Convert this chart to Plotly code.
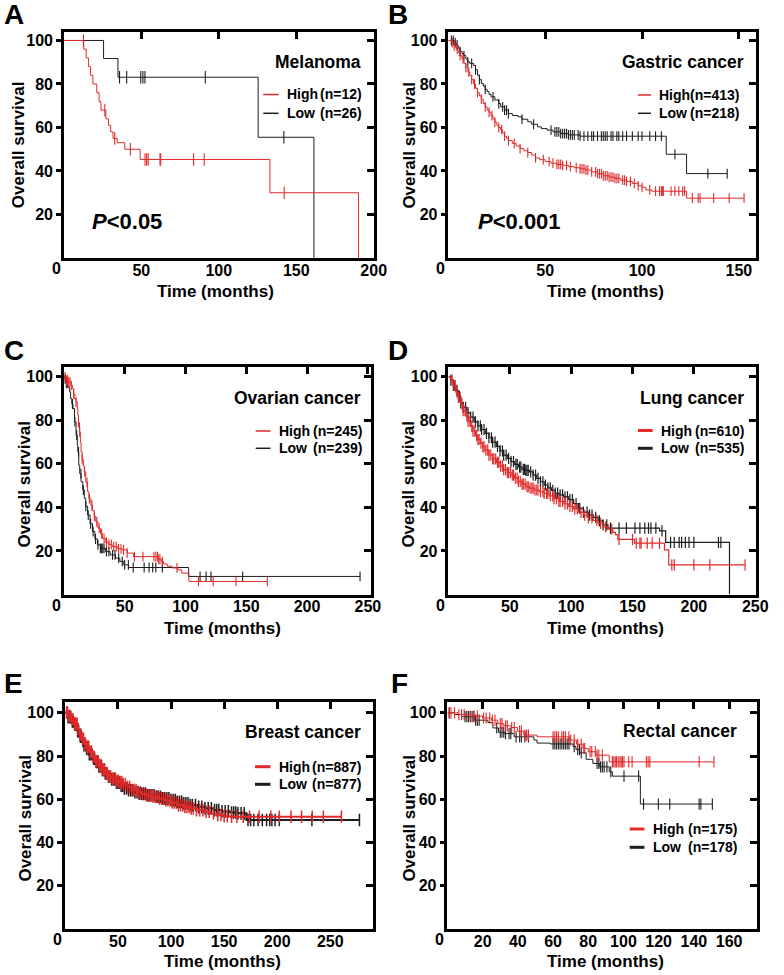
import plotly.graph_objects as go

W, H = 784, 975
FONT = "Liberation Sans"
RED = "#e12a2a"
BLK = "#1e1e1e"

# ---------------- DATA ----------------
# A  Melanoma
A_high_t = [0, 12.8, 14.4, 15.9, 17.2, 18.7, 21.2, 22.7, 23.9, 27.1, 28.8, 30.2, 31.7, 34.4, 39.3, 49.2, 133.0, 190.2]
A_high_s = [100, 96, 92, 88, 84, 80, 76, 72, 68, 64, 61, 58, 55, 53, 50, 45.3, 30, 0]
A_high_end = None
A_high_cens = [12.6, 26.4, 32.8, 42.9, 52.4, 53.4, 54.4, 62.0, 62.5, 83.7, 90.6, 142.2]
A_low_t = [0, 25.6, 34.9, 125.4, 161.4]
A_low_s = [100, 91.7, 83.1, 55.5, 0]
A_low_end = None
A_low_cens = [35.9, 40.5, 49.6, 51.0, 52.3, 91.3, 142.0]

# B  Gastric cancer
B_high_t = [0, 2, 3, 4, 5, 6, 7, 8, 9, 10, 11, 12, 13, 14, 15, 16, 17, 18, 19, 20, 21, 22, 23, 24, 25, 26, 27, 28, 29, 30, 31,
            33, 35, 37, 39, 41, 43, 45, 47, 50, 53, 56, 59, 62, 65, 68, 71, 74, 77, 80, 83, 86, 89, 92, 95, 98, 100, 102, 105, 123]
B_high_s = [100, 99, 97.5, 96, 94.5, 93, 91.5, 89.5, 87.5, 85.5, 84, 82, 80, 78, 76, 74.5, 73, 71, 69.5, 68, 67, 65.5, 64, 62.5, 61, 60, 59, 57.5, 56, 55, 54,
            52.7, 51.5, 50.3, 49.3, 48.5, 47.3, 46, 45.2, 44.3, 43.6, 43, 42.6, 42, 41.5, 41, 40.4, 39.6, 38.8, 37.8, 37.2, 36.6, 35.8, 35.2, 34.3, 33.2, 32.5, 31.3, 30.7, 27.5]
B_high_end = 152.7
B_high_cens = [2, 3, 4.5, 6, 7.5, 9, 10.5, 12, 13.5, 15, 17, 19, 21, 22.5, 24, 26, 27.5, 29, 31, 34, 37, 41, 45, 49, 52, 54, 56, 57, 58, 59,
               61, 63, 66, 68, 69, 70, 71, 72, 74, 76, 77, 78, 79, 80, 81, 82, 83, 84, 85, 86, 87, 88, 90, 91, 92, 94, 96, 98, 100,
               104, 107, 109, 110, 110.5, 111, 115, 117, 119, 121, 122, 126, 129, 130, 137, 145, 152.7]
B_low_t = [0, 3, 4, 5, 6, 7, 8, 9, 10, 11, 13, 14, 15, 16, 17, 18, 19, 20, 21, 22, 24, 26, 27, 29, 31, 33, 36, 38, 41, 43,
           46, 48, 51, 54, 58, 62, 68, 112.5, 123]
B_low_s = [100, 99, 98, 96.5, 95, 94, 93, 91.5, 90.2, 89.5, 88.5, 86.5, 84, 82, 80.2, 79, 77.5, 76.5, 75.2, 74.1, 72.6, 71, 69.5, 68, 66.4, 65.5, 64.9, 63.8, 62.6, 61.5,
           60.3, 59.5, 58.8, 58, 57.2, 56.6, 56, 47.7, 38.8]
B_low_end = 144
B_low_cens = [1.5, 2.5, 3.5, 4.5, 6, 8, 10, 12, 14, 16, 19, 23, 26, 28, 29, 30, 31, 38, 44, 53, 55, 56, 57, 58, 59, 60, 61, 62, 63, 64,
              65, 67, 68, 70, 72, 74, 75, 77, 79, 80, 81, 82, 84, 85, 87, 88, 90, 92, 95, 98, 100, 104, 107, 110, 117, 134, 144]

# C  Ovarian cancer
C_high_t = [0, 2, 4, 6, 7, 8, 9, 10, 11, 11.5, 12, 12.8, 13.5, 14.1, 15, 16, 16.8, 18, 19.5, 20.5, 22.2, 23.5, 25, 26.2, 28, 30, 31.6, 34, 37, 39.7,
            44, 47.8, 52, 57.3, 77.5, 80.2, 82, 85, 89, 93.7, 97, 102.8]
C_high_s = [100, 98.5, 97.5, 96, 94.5, 92, 90, 88.4, 85, 82.3, 79, 74.7, 70, 65.5, 62, 59, 56.3, 51.5, 47.2, 44, 41, 38.5, 36, 33.4, 30.5, 28, 25.8, 24, 23, 22,
            21, 20.5, 19, 17.4, 16.2, 15.1, 14, 13, 12.2, 11.3, 9.8, 6]
C_high_end = 167.3
C_high_cens = [1, 2, 3, 4, 5, 6, 8, 10, 12, 13, 15, 17, 19, 21, 23, 25, 27, 29, 31, 33, 35, 37, 39, 41, 43, 45, 47, 49, 52, 58,
               65, 74, 75.6, 77, 78, 79, 81, 93, 110.7, 122.8, 141.6, 167.3]
C_low_t = [0, 1, 2, 3, 4.7, 5.5, 6.5, 7.4, 8.7, 10, 11, 11.4, 12.2, 13, 14.1, 15.5, 16.8, 18, 19.5, 21.5,
           23.5, 25.5, 27.6, 30, 34.3, 38, 42.4, 46, 49.2, 53.2, 102.6]
C_low_s = [100, 99, 97, 95, 93, 90, 87.5, 85.4, 79.3, 73.2, 68.5, 65.5, 59.4, 55.5, 51.8, 48, 44.2, 40.5, 36.5, 32.5,
           28.9, 25.5, 22.8, 21.2, 19.7, 18.2, 16.7, 15.2, 13.6, 12.4, 8.3]
C_low_end = 243.6
C_low_cens = [1, 2, 7, 9, 10.5, 12, 14, 16, 18, 20, 22, 24, 26, 28, 30, 31, 32, 33, 35, 37, 40, 42, 45, 48, 50, 53, 57,
              66, 70, 73, 75.6, 81, 112, 117, 121, 147, 243.6]

# D  Lung cancer
D_high_t = [0, 2, 4, 6, 8, 10, 12, 14, 16, 18, 20, 22, 24, 26, 28, 30, 33, 36, 39, 42, 45, 48, 51, 54, 57, 60, 63, 66,
            70, 74, 78, 82, 86, 90, 94, 98, 102, 106, 110, 114, 118, 122, 126, 130, 134, 136, 138, 151.6, 176, 179.5]
D_high_s = [100, 98.5, 96, 93, 90.5, 87.5, 84.5, 82, 79.5, 77.3, 75, 73, 71.2, 69.5, 67.8, 66.3, 64, 62.3, 60.7, 59, 57.4, 56, 54.8, 53.5, 52, 50.7, 49.5, 48.9,
            48, 47.2, 46.4, 45.3, 44, 42.8, 41.6, 40.5, 39.3, 37.7, 36.4, 35.2, 34, 32.7, 31, 30, 28.5, 27.5, 25.3, 23.6, 20.5, 13.6]
D_high_end = 241.7
D_high_cens = [3, 4.5, 5.5, 7, 8, 9.5, 11, 12, 13.5, 15, 16, 17.5, 19, 20, 21.5, 23, 24, 25, 26.5, 28, 29, 30.5, 32, 33, 34.5, 36, 37, 38.5,
               40, 41, 42.5, 44, 45, 46.5, 48, 49, 50.5, 52, 53, 54.5, 56, 57, 58.5, 60, 61, 62.5, 64, 65, 66.5, 68, 69, 70.5, 72, 73,
               75, 77, 78, 80, 81, 83, 85, 86, 88, 90, 91, 93, 95, 97, 99, 101, 103, 105, 108, 111, 114, 117, 121, 124, 128, 133,
               139, 150, 153, 156, 157, 162, 166, 172, 182, 184, 200, 213, 241.7]
D_low_t = [0, 2, 4, 6, 8, 10, 12, 15, 18, 21, 24, 27, 30, 33, 36, 39, 42, 45, 48, 51, 54, 57, 60, 63, 66, 69, 72, 75, 78, 81, 84, 87, 90,
           94, 98, 102, 106, 110, 114, 118, 122, 126, 130, 172, 177, 229]
D_low_s = [100, 98.5, 96, 93.8, 91, 88, 86, 83.4, 81.5, 79.3, 77.5, 75.8, 74, 72, 70, 68, 66, 64, 62.5, 61, 59.8, 58.5, 57.5, 57, 56.3, 54.8, 53.3, 51.8, 50.3, 49, 47.8, 46.6, 45.8,
           44.8, 43.6, 41.8, 39.6, 37.8, 36.5, 35.4, 33.8, 32, 30.5, 29.2, 23.9, 0]
D_low_end = None
D_low_cens = [2, 4, 5, 7, 9, 10, 12, 14, 16, 18, 20, 22, 24, 26, 27, 29, 31, 33, 35, 36, 38, 40, 42, 44, 45, 47, 49, 51, 53, 55,
              56, 58, 59, 61, 62, 63, 64, 65, 67, 69, 71, 73, 75, 77, 79, 81, 83, 85, 87, 89, 91, 93, 95, 97, 99, 101, 104, 107,
              110, 113, 115, 117, 120, 123, 126, 129, 132, 139, 145, 152, 156, 160, 163, 165, 169, 174, 181, 184, 188, 190, 193,
              196, 200, 220, 222]

# E  Breast cancer
E_high_t = [0, 3, 6, 9, 12, 14, 16, 18, 20, 23, 26, 29, 32, 35, 38, 41, 44, 48, 51, 55, 59, 63, 68, 72, 77, 82, 88, 94, 100, 106,
            112, 118, 124, 131, 137, 143, 150, 156]
E_high_s = [100, 98.5, 97, 95, 92.5, 90, 88, 86, 84.3, 82, 79.7, 77.6, 75.8, 73.8, 72, 70.6, 69.6, 68.5, 68, 67, 65.7, 64.3, 63.3, 62.4, 61.8, 61.2, 60.4, 59.6, 58.5, 57.3,
            56.5, 55.8, 55, 54.2, 53.4, 52.7, 52.2, 51.9]
E_high_end = 260.5
E_high_cens = [1.5, 2.5, 4, 5, 6.5, 7.5, 9, 10, 11.5, 12.5, 14, 15, 16.5, 17.5, 19, 20, 21.5, 22.5, 24, 25, 26.5, 27.5, 29, 30, 31.5, 32.5,
               34, 35, 36.5, 37.5, 39, 40, 41.5, 43, 44.5, 46, 47.5, 49, 50.5, 52, 53.5, 55, 57, 59, 61, 63, 65, 67, 69, 71, 73, 75,
               77, 79, 81, 83, 85, 87, 89, 91, 93, 95, 97, 99, 101, 103, 105, 107, 109, 111, 113, 115, 117, 119, 121, 124, 127, 130,
               133, 136, 140, 144, 147, 150, 153, 157, 162, 168, 174, 183, 194, 202, 213, 223, 233, 243.5, 260.5]
E_low_t = [0, 3, 6, 9, 12, 14, 16, 18, 20, 23, 26, 29, 32, 35, 38, 41, 44, 48, 52, 56, 60, 65, 70, 77, 85, 92, 100, 106, 112, 118,
           125, 132, 140, 148, 156, 163, 171]
E_low_s = [100, 98, 96, 94.5, 91.5, 89, 87, 85, 83.3, 80.8, 78.8, 77.3, 75.2, 73.5, 72, 70.4, 69.2, 67.7, 66.3, 65, 64.2, 63.3, 62.6, 61.9, 61.2, 60.4, 59.6, 58.8, 58.1, 57.3,
           56.5, 55.8, 55, 54.4, 53.9, 53.5, 50.4]
E_low_end = 277.5
E_low_cens = [2, 3, 4.5, 5.5, 7, 8, 9.5, 10.5, 12, 13, 14.5, 15.5, 17, 18, 19.5, 20.5, 22, 23, 24.5, 25.5, 27, 28, 29.5, 30.5, 32, 33,
              34.5, 35.5, 37, 38, 39.5, 41, 42.5, 44, 45.5, 47, 48.5, 50, 51.5, 53, 54.5, 56, 58, 60, 62, 64, 66, 68, 70, 72, 74,
              76, 78, 80, 82, 84, 86, 88, 90, 92, 94, 96, 98, 100, 102, 104, 106, 108, 110, 112, 114, 116, 118, 120, 123, 126, 129,
              132, 135, 138, 141, 143, 145, 148, 151, 154, 157, 159, 161, 163, 166, 169, 172.5, 175, 178, 182, 186, 190, 193, 195,
              198, 202, 232.7, 277.5]

# F  Rectal cancer
F_high_t = [0, 6, 12, 20, 25, 28.6, 32, 36, 39.7, 43.4, 50.9, 69.5, 73.3, 77, 80, 84.4, 91.9]
F_high_s = [100, 99.2, 98.5, 97.6, 96.6, 95, 94, 93.2, 91.5, 89.7, 88.9, 87.4, 85.5, 83.5, 82, 80.4, 77.3]
F_high_end = 151.4
F_high_cens = [1, 2, 4, 6.5, 8, 9.5, 13, 15, 17, 20.5, 22, 24, 25.5, 27, 30, 31, 33, 34, 36.5, 38, 41, 42, 44, 45, 46, 60, 61, 62, 63,
               65, 66, 67, 69, 70, 72, 74, 76, 77.5, 78, 81, 82, 84, 85, 86, 88, 93.7, 94.5, 95.3, 96, 97, 98, 98.7, 99.5, 100.3,
               103, 104.9, 113, 114, 115, 143, 151.4]
F_low_t = [0, 4, 8, 15.5, 23, 25.8, 29, 32.3, 37.9, 49.1, 50.9, 58.4, 71.4, 73, 75.1, 78.8, 82.6, 86.3, 91.9, 93.7, 109.6]
F_low_s = [100, 99.2, 98.2, 96.6, 95.5, 93, 91, 90.4, 88.9, 87.4, 86, 85.6, 84.4, 83, 81.5, 78.5, 76.6, 75, 72.7, 70.7, 57.8]
F_low_end = 150.5
F_low_cens = [1, 10, 11, 12, 13, 14, 15, 16, 17, 18, 28, 30, 31, 32, 33, 35, 36, 39, 41, 42, 44, 46, 60, 61, 62, 63, 64, 65, 66, 67,
              68, 69, 72, 74, 75, 76, 85, 86, 87, 88, 89, 90.6, 92.8, 100.3, 108.6, 111.4, 119.8, 126.3, 143, 144, 150.5]

TITLES = ["Melanoma", "Gastric cancer", "Ovarian cancer", "Lung cancer", "Breast cancer", "Rectal cancer"]
LETTERS = ["A", "B", "C", "D", "E", "F"]
HIGH_LABELS = ["(n=12)", "(n=413)", "(n=245)", "(n=610)", "(n=887)", "(n=175)"]
LOW_LABELS = ["(n=26)", "(n=218)", "(n=239)", "(n=535)", "(n=877)", "(n=178)"]
HIGH_WORD = ["High", "High", "High", "High", "High", "High"]
PVALUES = ["0.05", "0.001", None, None, None, None]
Y_TICKS = [20, 40, 60, 80, 100]
X_TICKS = [[50, 100, 150, 200], [50, 100, 150], [50, 100, 150, 200, 250],
           [50, 100, 150, 200, 250], [50, 100, 150, 200, 250], [20, 40, 60, 80, 100, 120, 140, 160]]

CURVES = [
    [(A_low_t, A_low_s, A_low_end, A_low_cens, BLK), (A_high_t, A_high_s, A_high_end, A_high_cens, RED)],
    [(B_low_t, B_low_s, B_low_end, B_low_cens, BLK), (B_high_t, B_high_s, B_high_end, B_high_cens, RED)],
    [(C_low_t, C_low_s, C_low_end, C_low_cens, BLK), (C_high_t, C_high_s, C_high_end, C_high_cens, RED)],
    [(D_low_t, D_low_s, D_low_end, D_low_cens, BLK), (D_high_t, D_high_s, D_high_end, D_high_cens, RED)],
    [(E_low_t, E_low_s, E_low_end, E_low_cens, BLK), (E_high_t, E_high_s, E_high_end, E_high_cens, RED)],
    [(F_low_t, F_low_s, F_low_end, F_low_cens, BLK), (F_high_t, F_high_s, F_high_end, F_high_cens, RED)],
]
for grp in CURVES:
    for c in grp:
        assert len(c[0]) == len(c[1]), (len(c[0]), len(c[1]))

# ---------------- LAYOUT (pixel geometry) ----------------
P = [
    dict(box=(65, 32, 380, 258), xr=(0, 200), yr=(0, 103.9), lw=1.0, ms=9, mw=1.1, legw=1.5,
         title=(369, 61.7), rows=(94.5, 113.3), line=(267.7, 283.3), word=290, nright=370,
         p=(91.7, 221), letter=(2, 14), xtitle=(219, 291), ytitle=(18.5, 145)),
    dict(box=(456, 32, 769, 258), xr=(0, 159), yr=(0, 103.9), lw=1.0, ms=7, mw=1.1, legw=1.5,
         title=(758.7, 61.7), rows=(95, 113.3), line=(648.7, 662), word=668, nright=753.7,
         p=(483.7, 221), letter=(393, 14), xtitle=(616, 291), ytitle=(415.5, 145)),
    dict(box=(65, 367, 377, 594.5), xr=(0, 252.4), yr=(0, 104.5), lw=1.0, ms=7, mw=1.1, legw=1.5,
         title=(369.3, 398.3), rows=(431, 448.3), line=(260, 275), word=281.7, nright=370,
         p=None, letter=(2, 350), xtitle=(226.7, 628.3), ytitle=(25, 484)),
    dict(box=(456, 367, 769, 594.5), xr=(0, 250.8), yr=(0, 104.5), lw=1.2, ms=8, mw=1.2, legw=3,
         title=(758.7, 398.3), rows=(430.5, 448.3), line=(648.7, 663.7), word=670.3, nright=758.7,
         p=None, letter=(393, 350), xtitle=(616, 628.3), ytitle=(415.5, 484)),
    dict(box=(66, 702, 379, 929), xr=(0, 290), yr=(0, 105), lw=2.0, ms=9, mw=1.5, legw=3,
         title=(369.3, 731.7), rows=(766.7, 784.3), line=(259.3, 275), word=281.7, nright=369.3,
         p=None, letter=(2, 683), xtitle=(226.7, 961.5), ytitle=(25, 818)),
    dict(box=(455, 702, 770, 929), xr=(0, 176), yr=(0, 105), lw=1.0, ms=8, mw=1.1, legw=3,
         title=(751.3, 731), rows=(829, 847.3), line=(640.3, 655.3), word=662, nright=751.3,
         p=None, letter=(396, 683), xtitle=(616, 961.5), ytitle=(415.5, 818)),
]


def px(x):
    return x / W


def py(y):
    return 1 - y / H


def step_at(ts, ss, t):
    v = ss[0]
    for ti, si in zip(ts, ss):
        if ti <= t:
            v = si
    return v


fig = go.Figure()
annotations = []
shapes = []
layout = {}


def bold(size):
    return dict(family=FONT, size=size, color="black", weight="bold")


for i, (cfg, grp) in enumerate(zip(P, CURVES), start=1):
    sfx = "" if i == 1 else str(i)
    xref, yref = "x" + sfx, "y" + sfx
    ox, oy = i + 6, i + 6
    x0, y0, x1, y1 = cfg["box"]

    for ts, ss, end, cens, col in grp:
        xs = list(ts) + ([end] if end is not None else [])
        ys = list(ss) + ([ss[-1]] if end is not None else [])
        fig.add_trace(go.Scatter(x=xs, y=ys, mode="lines", line=dict(color=col, width=cfg["lw"], shape="hv"),
                                 xaxis=xref, yaxis=yref, showlegend=False, hoverinfo="skip"))
        fig.add_trace(go.Scatter(x=cens, y=[step_at(ts, ss, t) for t in cens], mode="markers",
                                 marker=dict(symbol="line-ns", size=cfg["ms"], color=col,
                                             line=dict(color=col, width=cfg["mw"])),
                                 xaxis=xref, yaxis=yref, showlegend=False, hoverinfo="skip"))
    # dummy trace for overlay axes (inner ticks on top / right)
    fig.add_trace(go.Scatter(x=[None], y=[None], xaxis="x%d" % ox, yaxis="y%d" % oy,
                             showlegend=False, hoverinfo="skip"))

    xdom = [px(x0), px(x1)]
    ydom = [py(y1), py(y0)]
    layout["xaxis" + sfx] = dict(domain=xdom, range=list(cfg["xr"]), anchor=yref, showline=True, mirror=True,
                                 linewidth=2.5, linecolor="black", ticks="", tickvals=X_TICKS[i - 1],
                                 tickfont=bold(16), ticklabelstandoff=-4, showgrid=False, zeroline=False,
                                 fixedrange=True)
    layout["yaxis" + sfx] = dict(domain=ydom, range=list(cfg["yr"]), anchor=xref, showline=True, mirror=True,
                                 linewidth=2.5, linecolor="black", ticks="outside", ticklen=5, tickwidth=2.5,
                                 tickcolor="black", tickvals=Y_TICKS, tickfont=bold(16), showgrid=False,
                                 zeroline=False, fixedrange=True)
    layout["xaxis%d" % ox] = dict(overlaying=xref, side="top", anchor=yref, range=list(cfg["xr"]),
                                  ticks="inside", ticklen=7, tickwidth=2.5, tickcolor="black",
                                  tickvals=X_TICKS[i - 1], showticklabels=False, showline=False,
                                  showgrid=False, zeroline=False, fixedrange=True)
    layout["yaxis%d" % oy] = dict(overlaying=yref, side="right", anchor=xref, range=list(cfg["yr"]),
                                  ticks="inside", ticklen=7, tickwidth=2.5, tickcolor="black",
                                  tickvals=Y_TICKS, showticklabels=False, showline=False,
                                  showgrid=False, zeroline=False, fixedrange=True)

    # "0" label offset to the left, as in the reference
    annotations.append(dict(x=px(x0 - 8), y=py(y1 + 10.5), xref="paper", yref="paper", text="<b>0</b>",
                            showarrow=False, font=bold(16), xanchor="center", yanchor="middle"))
    # axis titles
    annotations.append(dict(x=px(cfg["xtitle"][0]), y=py(cfg["xtitle"][1]), xref="paper", yref="paper",
                            text="<b>Time (months)</b>", showarrow=False, font=bold(17),
                            xanchor="center", yanchor="middle"))
    annotations.append(dict(x=px(cfg["ytitle"][0]), y=py(cfg["ytitle"][1]), xref="paper", yref="paper",
                            text="<b>Overall survival</b>", showarrow=False, font=bold(17), textangle=-90,
                            xanchor="center", yanchor="middle"))
    # panel title
    annotations.append(dict(x=px(cfg["title"][0]), y=py(cfg["title"][1]), xref="paper", yref="paper",
                            text="<b>%s</b>" % TITLES[i - 1], showarrow=False, font=bold(17.5),
                            xanchor="right", yanchor="middle"))
    # legend
    for row_y, word, nlab, col in [(cfg["rows"][0], HIGH_WORD[i - 1], HIGH_LABELS[i - 1], RED),
                                   (cfg["rows"][1], "Low", LOW_LABELS[i - 1], BLK)]:
        shapes.append(dict(type="line", xref="paper", yref="paper", x0=px(cfg["line"][0]), x1=px(cfg["line"][1]),
                           y0=py(row_y), y1=py(row_y), line=dict(color=col, width=cfg["legw"])))
        annotations.append(dict(x=px(cfg["word"]), y=py(row_y), xref="paper", yref="paper",
                                text="<b>%s</b>" % word, showarrow=False, font=bold(14),
                                xanchor="left", yanchor="middle"))
        annotations.append(dict(x=px(cfg["nright"]), y=py(row_y), xref="paper", yref="paper",
                                text="<b>%s</b>" % nlab, showarrow=False, font=bold(14),
                                xanchor="right", yanchor="middle"))
    # p-value
    if PVALUES[i - 1] is not None:
        annotations.append(dict(x=px(cfg["p"][0]), y=py(cfg["p"][1]), xref="paper", yref="paper",
                                text="<b><i>P</i>&lt;%s</b>" % PVALUES[i - 1], showarrow=False,
                                font=bold(22), xanchor="left", yanchor="middle"))
    # panel letter
    annotations.append(dict(x=px(cfg["letter"][0]), y=py(cfg["letter"][1]), xref="paper", yref="paper",
                            text="<b>%s</b>" % LETTERS[i - 1], showarrow=False, font=bold(28),
                            xanchor="left", yanchor="middle"))

fig.update_layout(width=W, height=H, margin=dict(l=0, r=0, t=0, b=0), paper_bgcolor="white",
                  plot_bgcolor="white", showlegend=False, annotations=annotations, shapes=shapes,
                  font=dict(family=FONT), **layout)

fig.write_html("out.html", config={"displayModeBar": False},
               post_script="document.body.style.margin='0px';")
